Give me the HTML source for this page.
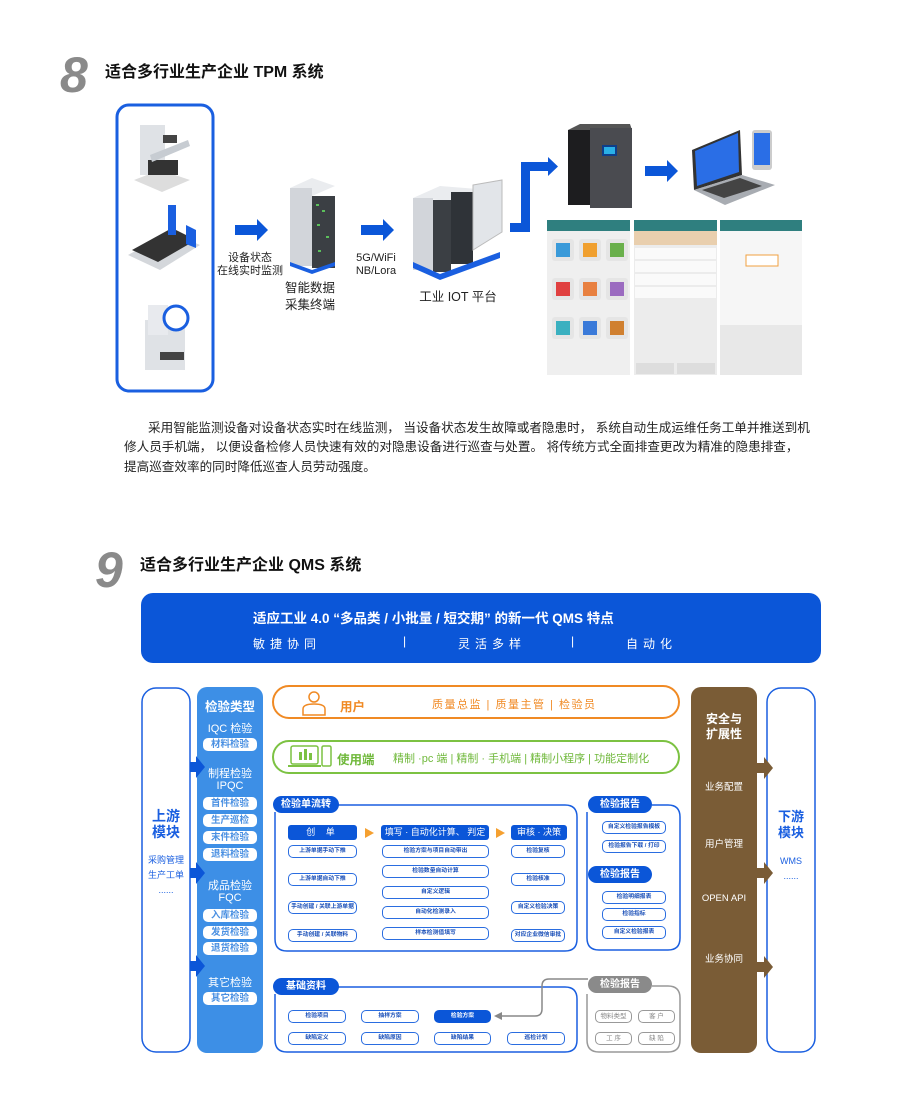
<!DOCTYPE html>
<html><head><meta charset="utf-8">
<style>
*{margin:0;padding:0;box-sizing:border-box}
body{width:900px;height:1117px;background:#fff;position:relative;overflow:hidden;font-family:"Liberation Sans","Noto Sans CJK SC",sans-serif;color:#222}
.a{position:absolute}
.big{font-style:italic;font-weight:bold;color:#8a8a8a;font-size:50px;line-height:50px}
.ttl{font-size:16px;font-weight:bold;color:#111;white-space:nowrap}
.c{text-align:center;white-space:nowrap}
.pill{position:absolute;background:#fff;border-radius:5px;color:#4a90e2;font-size:9.5px;text-align:center;line-height:13px;height:13px;width:54px;left:203px;font-weight:bold;white-space:nowrap;overflow:hidden}
.it{position:absolute;border:1.2px solid #2a6de0;border-radius:5px;height:13px;font-size:5.8px;color:#1a4fb8;text-align:center;line-height:11px;font-weight:bold;white-space:nowrap;background:#fff;overflow:hidden}
.hd{position:absolute;background:#0b56d8;color:#fff;border-radius:3px;height:15px;font-size:9px;line-height:15px;text-align:center;white-space:nowrap;overflow:hidden}
.tab{position:absolute;background:#0b56d8;color:#fff;border-radius:9px;height:17px;font-size:10px;line-height:17px;text-align:center;font-weight:bold}
.gi{position:absolute;border:1.2px solid #999;border-radius:5px;height:13px;font-size:6.5px;color:#888;text-align:center;line-height:11px;white-space:nowrap}
.wt{position:absolute;color:#fff;font-size:9.5px;text-align:center;white-space:nowrap}
</style></head><body>

<div class="a big" style="left:60px;top:50px">8</div>
<div class="a ttl" style="left:105px;top:58px">适合多行业生产企业 TPM 系统</div>

<svg class="a" style="left:0;top:0" width="900" height="400">
 <rect x="117" y="105" width="96" height="286" rx="12" fill="none" stroke="#1a5fe0" stroke-width="3"/>
 <polygon points="134,180 160,170 190,180 162,192" fill="#ddd"/>
 <rect x="140" y="125" width="25" height="50" fill="#dfe2e6"/>
 <rect x="148" y="160" width="30" height="15" fill="#333"/>
 <polygon points="150,155 188,140 190,146 152,162" fill="#c7ccd2"/>
 <rect x="163" y="135" width="14" height="8" fill="#444"/>
 <polygon points="128,255 170,232 200,245 160,270" fill="#d4d7db"/>
 <polygon points="132,250 172,228 196,240 158,262" fill="#333"/>
 <rect x="168" y="205" width="8" height="30" fill="#1a5fe0"/>
 <polygon points="186,225 196,230 196,248 186,244" fill="#1a5fe0"/>
 <rect x="145" y="320" width="40" height="50" fill="#dfe2e6"/>
 <rect x="148" y="305" width="20" height="30" fill="#e8eaee"/>
 <circle cx="176" cy="318" r="12" fill="#fff" stroke="#1a5fe0" stroke-width="3"/>
 <rect x="160" y="352" width="24" height="8" fill="#444"/>
 <path d="M235,225 H257 V219 L268,230 L257,241 V235 H235Z" fill="#0b56d8"/>
 <path d="M361,225 H383 V219 L394,230 L383,241 V235 H361Z" fill="#0b56d8"/>
 <path d="M645,166 H667 V160 L678,171 L667,182 V176 H645Z" fill="#0b56d8"/>
 <path d="M510,223 H521 V162 H548 V157 L558,166.5 L548,176 V171 H530 V232 H510Z" fill="#0b56d8"/>
 <polygon points="290,188 312,178 335,186 312,196" fill="#eaecef"/>
 <rect x="290" y="188" width="22" height="78" fill="#d2d5da"/>
 <rect x="312" y="196" width="23" height="72" fill="#3b3f44"/>
 <g fill="#5bbf5b"><rect x="316" y="204" width="3" height="2"/><rect x="322" y="210" width="3" height="2"/><rect x="317" y="224" width="3" height="2"/><rect x="326" y="236" width="3" height="2"/><rect x="318" y="250" width="3" height="2"/></g>
 <polygon points="290,266 312,274 335,266 335,262 312,270 290,262" fill="#1a5fe0"/>
 <polygon points="413,198 440,186 490,190 465,202" fill="#eaecef"/>
 <rect x="413" y="198" width="20" height="72" fill="#d2d5da"/>
 <rect x="433" y="200" width="18" height="72" fill="#3b3f44"/>
 <rect x="451" y="192" width="22" height="72" fill="#2f3338"/>
 <polygon points="473,185 502,180 502,232 473,250" fill="#e2e5e9" stroke="#bbb"/>
 <polygon points="413,268 440,280 500,258 500,252 440,274 413,262" fill="#1a5fe0"/>
 <polygon points="568,130 580,124 630,124 632,130" fill="#555"/>
 <rect x="568" y="130" width="22" height="75" fill="#1d1d1f"/>
 <rect x="590" y="128" width="42" height="80" fill="#4a4b50"/>
 <rect x="602" y="145" width="15" height="11" fill="#0e3e8a"/><rect x="604" y="147" width="11" height="7" fill="#2ab0e6"/>
 <polygon points="692,150 740,130 742,175 694,190" fill="#333"/>
 <polygon points="695,151 738,133 739,172 697,186" fill="#2a6ee6"/>
 <polygon points="694,190 742,175 775,185 725,205" fill="#a8acb2"/>
 <polygon points="702,190 740,178 762,186 724,198" fill="#444"/>
 <rect x="752" y="130" width="20" height="40" rx="3" fill="#ccc"/><rect x="754" y="133" width="16" height="32" fill="#2a6ee6"/>
 <g>
  <rect x="547" y="220" width="83" height="155" fill="#efefef"/><rect x="547" y="220" width="83" height="11" fill="#2f7f7f"/>
  <rect x="634" y="220" width="83" height="155" fill="#ececec"/><rect x="634" y="220" width="83" height="11" fill="#2f7f7f"/>
  <rect x="634" y="231" width="83" height="14" fill="#e9cfae"/>
  <rect x="635" y="248" width="81" height="11" fill="#fafafa"/><rect x="635" y="261" width="81" height="11" fill="#fafafa"/><rect x="635" y="274" width="81" height="11" fill="#fafafa"/><rect x="635" y="287" width="81" height="11" fill="#fafafa"/>
  <rect x="636" y="363" width="38" height="11" fill="#ddd"/><rect x="677" y="363" width="38" height="11" fill="#ddd"/>
  <rect x="720" y="220" width="82" height="155" fill="#f6f6f6"/><rect x="720" y="220" width="82" height="11" fill="#2f7f7f"/>
  <rect x="720" y="325" width="82" height="50" fill="#e8e8e8"/>
  <rect x="746" y="255" width="32" height="11" fill="#fff" stroke="#f0a040"/>
  <g fill="#e5e5e5"><rect x="552" y="239" width="22" height="22" rx="3"/><rect x="579" y="239" width="22" height="22" rx="3"/><rect x="606" y="239" width="22" height="22" rx="3"/><rect x="552" y="278" width="22" height="22" rx="3"/><rect x="579" y="278" width="22" height="22" rx="3"/><rect x="606" y="278" width="22" height="22" rx="3"/><rect x="552" y="317" width="22" height="22" rx="3"/><rect x="579" y="317" width="22" height="22" rx="3"/><rect x="606" y="317" width="22" height="22" rx="3"/></g>
  <g><rect x="556" y="243" width="14" height="14" fill="#3a9ad9"/><rect x="583" y="243" width="14" height="14" fill="#f0a030"/><rect x="610" y="243" width="14" height="14" fill="#6ab04c"/><rect x="556" y="282" width="14" height="14" fill="#e04040"/><rect x="583" y="282" width="14" height="14" fill="#e88040"/><rect x="610" y="282" width="14" height="14" fill="#9b6bc0"/><rect x="556" y="321" width="14" height="14" fill="#3ab0c0"/><rect x="583" y="321" width="14" height="14" fill="#3a7ad9"/><rect x="610" y="321" width="14" height="14" fill="#d08030"/></g>
 </g>
</svg>
<div class="a c" style="left:215px;top:252px;width:70px;font-size:11px;line-height:13px">设备状态<br>在线实时监测</div>
<div class="a c" style="left:280px;top:280px;width:60px;font-size:12.5px;line-height:17px">智能数据<br>采集终端</div>
<div class="a c" style="left:350px;top:252px;width:52px;font-size:11px;line-height:13px">5G/WiFi<br>NB/Lora</div>
<div class="a c" style="left:410px;top:286px;width:96px;font-size:12.5px">工业 IOT 平台</div>

<div class="a" style="left:124px;top:419px;font-size:12.6px;line-height:19.3px;white-space:nowrap;color:#222">
<span style="padding-left:24px">采用智能监测设备对设备状态实时在线监测， 当设备状态发生故障或者隐患时， 系统自动生成运维任务工单并推送到机</span><br>修人员手机端， 以便设备检修人员快速有效的对隐患设备进行巡查与处置。 将传统方式全面排查更改为精准的隐患排查，<br>提高巡查效率的同时降低巡查人员劳动强度。</div>

<div class="a big" style="left:95px;top:545px">9</div>
<div class="a ttl" style="left:140px;top:551px">适合多行业生产企业 QMS 系统</div>

<div class="a" style="left:141px;top:593px;width:680px;height:70px;background:#0b56d8;border-radius:12px"></div>
<div class="a" style="left:253px;top:607px;color:#fff;font-size:13.5px;font-weight:bold;white-space:nowrap">适应工业 4.0 “多品类 / 小批量 / 短交期” 的新一代 QMS 特点</div>
<div class="a" style="left:253px;top:635px;color:#fff;font-size:12px;white-space:nowrap;letter-spacing:5px">敏捷协同</div>
<div class="a" style="left:403px;top:634px;color:#fff;font-size:12px">|</div>
<div class="a" style="left:458px;top:635px;color:#fff;font-size:12px;white-space:nowrap;letter-spacing:5px">灵活多样</div>
<div class="a" style="left:571px;top:634px;color:#fff;font-size:12px">|</div>
<div class="a" style="left:626px;top:635px;color:#fff;font-size:12px;white-space:nowrap;letter-spacing:5px">自动化</div>

<svg class="a" style="left:0;top:680px" width="900" height="437">
 <g transform="translate(0,-680)">
 <rect x="142" y="688" width="48" height="364" rx="14" fill="none" stroke="#1a5fe0" stroke-width="1.5"/>
 <rect x="197" y="687" width="66" height="366" rx="10" fill="#3d8fe6"/>
 <rect x="767" y="688" width="48" height="364" rx="14" fill="none" stroke="#1a5fe0" stroke-width="1.5"/>
 <rect x="691" y="687" width="66" height="366" rx="10" fill="#7a5c36"/>
 <g fill="#0b56d8"><path d="M190,762 h6 v-6 l9,11 l-9,11 v-6 h-6z"/><path d="M190,868 h6 v-6 l9,11 l-9,11 v-6 h-6z"/><path d="M190,961 h6 v-6 l9,11 l-9,11 v-6 h-6z"/></g>
 <g fill="#7a5c36"><path d="M757,763 h7 v-6 l9,11 l-9,11 v-6 h-7z"/><path d="M757,868 h7 v-6 l9,11 l-9,11 v-6 h-7z"/><path d="M757,962 h7 v-6 l9,11 l-9,11 v-6 h-7z"/></g>
 <rect x="273" y="686" width="406" height="32" rx="16" fill="none" stroke="#f08a24" stroke-width="2"/>
 <rect x="273" y="741" width="406" height="32" rx="16" fill="none" stroke="#7cc242" stroke-width="2"/>
 <circle cx="314" cy="697" r="5" fill="none" stroke="#f08a24" stroke-width="1.5"/>
 <path d="M303,715 v-6 q0,-5 11,-5 q11,0 11,5 v6z" fill="none" stroke="#f08a24" stroke-width="1.5"/>
 <rect x="291" y="746" width="27" height="18" rx="2" fill="none" stroke="#7cc242" stroke-width="1.5"/>
 <path d="M288,766 h33" stroke="#7cc242" stroke-width="2"/>
 <rect x="299" y="752" width="3" height="8" fill="#7cc242"/><rect x="304" y="749" width="3" height="11" fill="#7cc242"/><rect x="309" y="753" width="3" height="7" fill="#7cc242"/>
 <rect x="322" y="746" width="9" height="20" rx="1.5" fill="none" stroke="#7cc242" stroke-width="1.5"/>
 <path d="M338,805 H565 q12,0 12,12 V939 q0,12 -12,12 H287 q-12,0 -12,-12 V812" fill="none" stroke="#1a5fe0" stroke-width="1.5"/>
 <path d="M652,805 H668 q12,0 12,12 V938 q0,12 -12,12 H599 q-12,0 -12,-12 V812" fill="none" stroke="#1a5fe0" stroke-width="1.5"/>
 <path d="M338,987 H565 q12,0 12,12 V1040 q0,12 -12,12 H287 q-12,0 -12,-12 V994" fill="none" stroke="#1a5fe0" stroke-width="1.5"/>
 <path d="M652,986 H668 q12,0 12,12 V1040 q0,12 -12,12 H599 q-12,0 -12,-12 V994" fill="none" stroke="#999" stroke-width="1.5"/>
 <path d="M588,979 H549 q-7,0 -7,7 V1009 q0,7 -7,7 H498" fill="none" stroke="#888" stroke-width="1.5"/>
 <path d="M494,1016 l8,-4 v8z" fill="#888"/>
 <path d="M365,828 l9,5 l-9,5z" fill="#f5a030"/><path d="M496,828 l9,5 l-9,5z" fill="#f5a030"/>
 </g>
</svg>

<div class="a c" style="left:142px;top:808px;width:48px;color:#1a5fe0;font-size:14px;font-weight:bold;line-height:16px">上游<br>模块</div>
<div class="a c" style="left:142px;top:853px;width:48px;color:#1a5fe0;font-size:9px;line-height:15px">采购管理<br>生产工单<br>......</div>
<div class="a c" style="left:767px;top:809px;width:48px;color:#1a5fe0;font-size:13px;font-weight:bold;line-height:16px">下游<br>模块</div>
<div class="a c" style="left:767px;top:854px;width:48px;color:#1a5fe0;font-size:9px;line-height:15px">WMS<br>......</div>

<div class="a c" style="left:197px;top:696px;width:66px;color:#fff;font-size:12.5px;font-weight:bold">检验类型</div>
<div class="a c" style="left:197px;top:720px;width:66px;color:#fff;font-size:11px">IQC 检验</div>
<div class="pill" style="top:738px">材料检验</div>
<div class="a c" style="left:197px;top:768px;width:66px;color:#fff;font-size:11px;line-height:12px">制程检验<br>IPQC</div>
<div class="pill" style="top:797px">首件检验</div>
<div class="pill" style="top:814px">生产巡检</div>
<div class="pill" style="top:831px">末件检验</div>
<div class="pill" style="top:848px">退料检验</div>
<div class="a c" style="left:197px;top:880px;width:66px;color:#fff;font-size:11px;line-height:12px">成品检验<br>FQC</div>
<div class="pill" style="top:909px">入库检验</div>
<div class="pill" style="top:926px">发货检验</div>
<div class="pill" style="top:942px">退货检验</div>
<div class="a c" style="left:197px;top:974px;width:66px;color:#fff;font-size:11px">其它检验</div>
<div class="pill" style="top:992px">其它检验</div>

<div class="a c" style="left:691px;top:712px;width:66px;color:#fff;font-size:12px;font-weight:bold;line-height:15px">安全与<br>扩展性</div>
<div class="wt" style="left:691px;top:779px;width:66px">业务配置</div>
<div class="wt" style="left:691px;top:836px;width:66px">用户管理</div>
<div class="wt" style="left:691px;top:893px;width:66px">OPEN API</div>
<div class="wt" style="left:691px;top:951px;width:66px">业务协同</div>

<div class="a" style="left:340px;top:696px;color:#f08a24;font-size:12.5px;font-weight:bold">用户</div>
<div class="a" style="left:432px;top:696px;color:#f08a24;font-size:11px;white-space:nowrap;letter-spacing:1.5px">质量总监 | 质量主管 | 检验员</div>
<div class="a" style="left:337px;top:749px;color:#6fb83a;font-size:12.5px;font-weight:bold">使用端</div>
<div class="a" style="left:393px;top:750px;color:#6fb83a;font-size:11px;white-space:nowrap">精制 ·pc 端 | 精制 · 手机端 | 精制小程序 | 功能定制化</div>

<div class="tab" style="left:273px;top:796px;width:66px">检验单流转</div>
<div class="hd" style="left:288px;top:825px;width:69px;letter-spacing:4px">创 单</div>
<div class="hd" style="left:381px;top:825px;width:108px">填写 · 自动化计算、 判定</div>
<div class="hd" style="left:511px;top:825px;width:56px">审核 · 决策</div>
<div class="it" style="left:288px;top:845px;width:69px">上游单据手动下推</div>
<div class="it" style="left:288px;top:873px;width:69px">上游单据自动下推</div>
<div class="it" style="left:288px;top:901px;width:69px">手动创建 / 关联上游单据</div>
<div class="it" style="left:288px;top:929px;width:69px">手动创建 / 关联物料</div>
<div class="it" style="left:382px;top:845px;width:107px">检验方案与项目自动带出</div>
<div class="it" style="left:382px;top:865px;width:107px">检验数量自动计算</div>
<div class="it" style="left:382px;top:886px;width:107px">自定义逻辑</div>
<div class="it" style="left:382px;top:906px;width:107px">自动化检测录入</div>
<div class="it" style="left:382px;top:927px;width:107px">样本检测值填写</div>
<div class="it" style="left:511px;top:845px;width:54px">检验复核</div>
<div class="it" style="left:511px;top:873px;width:54px">检验核准</div>
<div class="it" style="left:511px;top:901px;width:54px">自定义检验决策</div>
<div class="it" style="left:511px;top:929px;width:54px">对应企业微信审批</div>

<div class="tab" style="left:588px;top:796px;width:64px">检验报告</div>
<div class="it" style="left:602px;top:821px;width:64px">自定义检验报告模板</div>
<div class="it" style="left:602px;top:840px;width:64px">检验报告下载 / 打印</div>
<div class="tab" style="left:588px;top:866px;width:64px">检验报告</div>
<div class="it" style="left:602px;top:891px;width:64px">检验明细报表</div>
<div class="it" style="left:602px;top:908px;width:64px">检验指标</div>
<div class="it" style="left:602px;top:926px;width:64px">自定义检验报表</div>

<div class="tab" style="left:273px;top:978px;width:66px">基础资料</div>
<div class="it" style="left:288px;top:1010px;width:58px">检验项目</div>
<div class="it" style="left:361px;top:1010px;width:58px">抽样方案</div>
<div class="it" style="left:434px;top:1010px;width:57px;background:#0b56d8;color:#fff;border-color:#0b56d8">检验方案</div>
<div class="it" style="left:288px;top:1032px;width:58px">缺陷定义</div>
<div class="it" style="left:361px;top:1032px;width:58px">缺陷原因</div>
<div class="it" style="left:434px;top:1032px;width:57px">缺陷结果</div>
<div class="it" style="left:507px;top:1032px;width:58px">巡检计划</div>

<div class="tab" style="left:588px;top:976px;width:64px;background:#8a8a8a">检验报告</div>
<div class="gi" style="left:595px;top:1010px;width:37px">物料类型</div>
<div class="gi" style="left:638px;top:1010px;width:37px">客 户</div>
<div class="gi" style="left:595px;top:1032px;width:37px">工 序</div>
<div class="gi" style="left:638px;top:1032px;width:37px">缺 陷</div>
</body></html>
